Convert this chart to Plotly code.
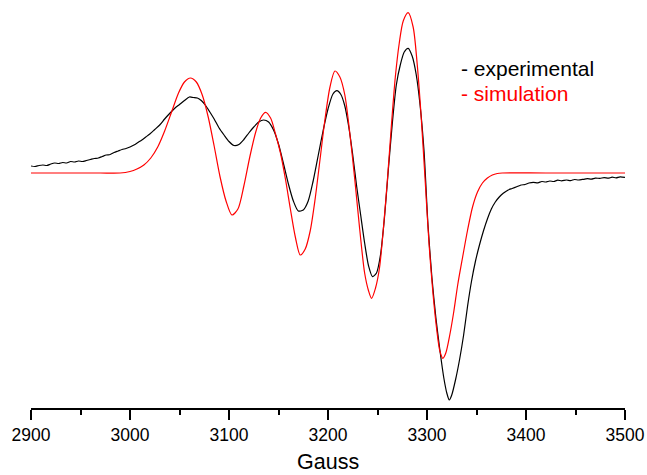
import plotly.graph_objects as go

# Simulation (red)
sim_x = [2900, 2940, 2970, 2990, 3000, 3007, 3014, 3021, 3028, 3035, 3042, 3049, 3055, 3061,
         3067, 3073, 3079, 3085, 3091, 3097, 3103, 3109, 3115, 3121, 3127, 3132, 3137, 3142,
         3147, 3152, 3157, 3162, 3167, 3172, 3177, 3182, 3187, 3192, 3197, 3202, 3207, 3212,
         3217, 3222, 3227, 3232, 3237, 3241, 3244, 3248, 3252, 3256, 3260, 3264, 3268, 3272,
         3276, 3281, 3286, 3290, 3294, 3298, 3302, 3306, 3310, 3313, 3316, 3319, 3323, 3327,
         3331, 3336, 3341, 3346, 3351, 3356, 3361, 3366, 3371, 3376, 3420, 3500]
sim_y = [0, 0, 0, 0, 1.5, 4, 8, 15, 26, 42, 61, 80, 91, 95,
         91, 78, 56, 27, -4, -28, -42, -36, -13, 16, 41, 55, 60.7, 55,
         39, 20, -6, -36, -64, -82, -76, -58, -26, 14, 54, 86, 102, 96,
         78, 40, -6, -56, -100, -118, -125.3, -115, -95, -55, -7, 47, 96, 130,
         152, 160.3, 146, 110, 58, -5, -70, -120, -158, -178, -185.3, -180, -162, -139,
         -112, -84, -57, -34, -19, -10, -5, -2, -0.5, 0, 0, 0]

# Experimental (black)
exp_x = [2900, 2904, 2908, 2912, 2916, 2920, 2924, 2928, 2932, 2936, 2940, 2944, 2948, 2952, 2956,
         2960, 2964, 2968, 2972, 2976, 2980, 2984, 2988, 2992, 2996, 3000, 3004, 3008, 3012, 3016,
         3020, 3025, 3030, 3035, 3040, 3045, 3050, 3055, 3060, 3064, 3068, 3072, 3076, 3080,
         3085, 3090, 3095, 3100, 3105, 3110, 3115, 3120, 3125, 3130, 3135, 3140, 3145, 3150,
         3155, 3160, 3165, 3170, 3175, 3180, 3185, 3190, 3195, 3200, 3205, 3209, 3213, 3217,
         3221, 3225, 3229, 3233, 3237, 3241, 3245, 3249, 3253, 3257, 3261, 3265, 3269, 3273,
         3277, 3281, 3285, 3289, 3293, 3297, 3301, 3305, 3309, 3313, 3317, 3320, 3322.5, 3325,
         3329, 3333, 3337, 3341, 3345, 3349, 3353, 3357, 3361, 3365, 3369, 3373, 3377, 3382,
         3386, 3390.6, 3395, 3399, 3403, 3407.4, 3412, 3416, 3420, 3424, 3428, 3432, 3436, 3441,
         3445, 3449, 3453, 3458, 3462, 3466, 3470, 3474.7, 3479, 3483, 3487, 3491, 3495, 3500]
exp_y = [7, 6.5, 7.5, 8, 7.5, 9, 10, 9.5, 10.5, 10, 11.5, 11, 12, 11.5, 12.5,
         13.5, 14.5, 15, 16.5, 18, 18.5, 20.5, 22, 23.5, 24.5, 26, 28, 30.5, 33, 36,
         39, 43.5, 48, 54, 59.5, 64.5, 68.5, 72.5, 76, 75.5, 75, 72.5, 68, 62,
         54, 45, 38, 31.5, 27.5, 28.5, 33.5, 40, 46, 51, 53, 51, 43, 29,
         9.5, -11, -28, -38, -37, -28, -8, 17, 42, 64, 79, 82.3, 78.5, 67,
         46, 18, -13.7, -42, -70, -93, -103.7, -100, -82, -45, 4, 50, 88, 108,
         121, 124.7, 117, 99, 68, 22, -52, -105, -145, -177, -205, -220, -227, -222,
         -206, -186, -162, -133, -108, -88, -72, -58, -46, -36, -29, -24, -20.3, -17,
         -15.5, -13.7, -12, -11.5, -10, -9.3, -9.8, -8.5, -9, -8, -8.5, -7.2, -7.8, -7,
         -7.6, -6.5, -7, -6.3, -5.6, -6.2, -5.2, -5.3, -4.6, -5.2, -4.2, -4.8, -3.8, -4.3]

tick_vals = [2900, 3000, 3100, 3200, 3300, 3400, 3500]
tick_text = ["2900", "3000", "3100", "3200", "3300", "3400", "3500"]
legend_labels = ["- experimental", "- simulation"]

FONT = "Liberation Sans, Arial, sans-serif"

fig = go.Figure()
fig.add_trace(go.Scatter(x=exp_x, y=exp_y, mode="lines",
                         line=dict(color="black", width=1.2, shape="spline", smoothing=0.7),
                         showlegend=False))
fig.add_trace(go.Scatter(x=sim_x, y=sim_y, mode="lines",
                         line=dict(color="#ff0000", width=1.2, shape="spline", smoothing=0.8),
                         showlegend=False))

H_PLOT = 408 - 5
def py(p):
    return (408 - p) / H_PLOT

fig.add_annotation(text=legend_labels[0], xref="paper", yref="paper",
                   x=(459 - 31) / 594, y=py(68), xanchor="left", yanchor="middle",
                   showarrow=False, font=dict(family=FONT, size=21, color="black"))
fig.add_annotation(text=legend_labels[1], xref="paper", yref="paper",
                   x=(459 - 31) / 594, y=py(94), xanchor="left", yanchor="middle",
                   showarrow=False, font=dict(family=FONT, size=21, color="#ff0000"))
fig.add_annotation(text="Gauss", xref="paper", yref="paper",
                   x=0.5, y=py(462), xanchor="center", yanchor="middle",
                   showarrow=False, font=dict(family=FONT, size=21.5, color="black"))

fig.update_layout(
    width=647, height=475,
    margin=dict(l=31, r=22, t=5, b=67),
    paper_bgcolor="white", plot_bgcolor="white",
    xaxis=dict(range=[2900, 3500], tickvals=tick_vals, ticktext=tick_text,
               automargin=False,
               ticks="outside", ticklen=10, tickwidth=1.5, tickcolor="black",
               showline=True, linecolor="black", linewidth=1.5,
               showgrid=False, zeroline=False,
               tickfont=dict(family=FONT, size=17.5, color="black"),
               minor=dict(ticks="outside", ticklen=5, tickwidth=1.5, tickcolor="black",
                          dtick=50, showgrid=False)),
    yaxis=dict(range=[-235, 168], visible=False, showgrid=False, zeroline=False,
               automargin=False),
)

fig.write_html("out.html", config={"displayModeBar": False},
               post_script="document.body.style.margin='0';document.body.style.overflow='hidden';")
